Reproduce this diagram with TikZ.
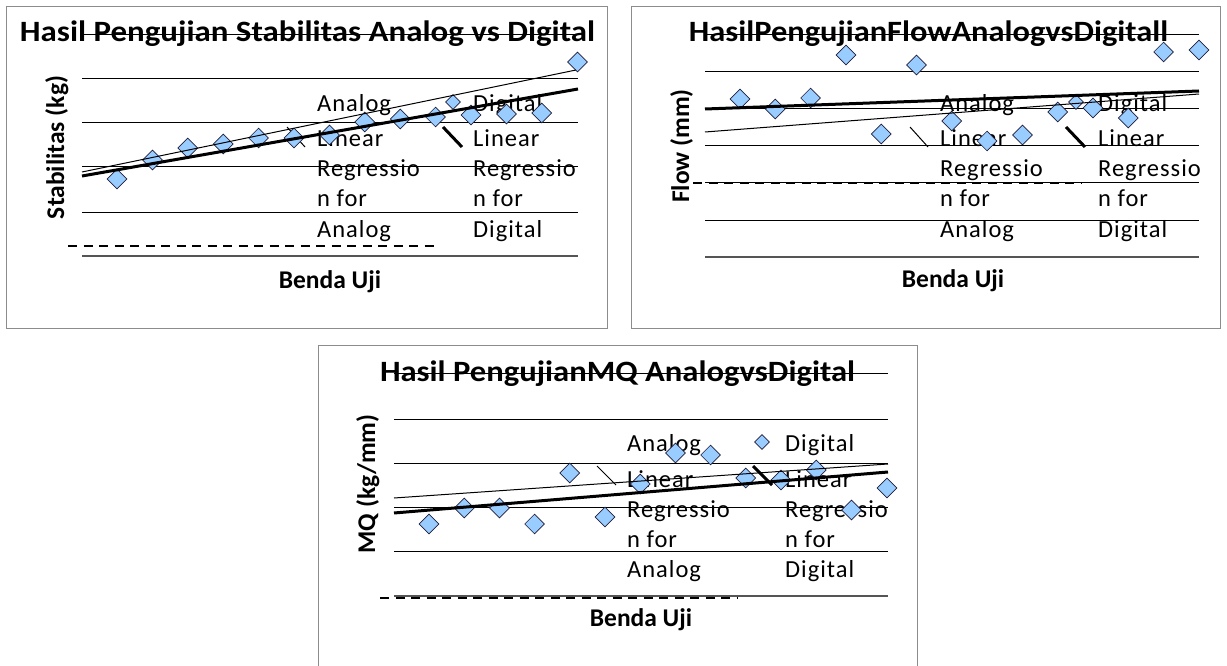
\documentclass[tikz,border=0pt]{standalone}
\usepackage{fontspec}
\setmainfont{Carlito}
\usepackage{graphicx}
\usetikzlibrary{shapes.geometric}
\definecolor{dfill}{RGB}{153,204,255}
\definecolor{framecol}{RGB}{140,140,140}
\definecolor{basecol}{RGB}{85,85,85}
\definecolor{ptline}{RGB}{30,30,60}
\tikzset{
  gridln/.style={black, line width=1pt},
  baseln/.style={basecol, line width=2pt},
  dashln/.style={black, line width=1.4pt, dash pattern=on 9pt off 6.5pt},
  thinreg/.style={black, line width=1pt},
  thickreg/.style={black, line width=3pt},
  pt/.style={shape=diamond, draw=ptline, fill=dfill, line width=0.7pt, minimum width=20pt, minimum height=20pt, inner sep=0pt},
  legpt/.style={pt, minimum width=15pt, minimum height=15pt},
  ttl/.style={anchor=base, inner sep=0pt},
  leg/.style={anchor=base west, inner sep=0pt, font=\fontsize{24.5}{26}\selectfont\addfontfeatures{LetterSpace=4}},
  axlab/.style={anchor=base, inner sep=0pt, font=\fontsize{25.5}{27}\selectfont\bfseries},
  panelframe/.style={draw=framecol, line width=1pt},
}
\newcommand\mytitle[2]{\resizebox{#1pt}{\height}{\fontsize{29.5}{31}\selectfont\bfseries #2}}
\begin{document}
\begin{tikzpicture}[x=1pt, y=-1pt]
\useasboundingbox[fill=white] (0,0) rectangle (1227,666);

% ---------- frames ----------
\draw[panelframe] (6.5,6.5) rectangle (607,328.5);
\draw[panelframe] (631,6.5) rectangle (1220,328.5);
\draw[panelframe] (318.5,666) -- (318.5,345.5) -- (917,345.5) -- (917,666);

% ---------- panel 1 : Stabilitas ----------
\foreach \g in {35,79,123,167,212} \draw[gridln] (82,\g) -- (578,\g);
\draw[baseln] (82,256) -- (578,256);
\node[ttl] (t1) at (307.5,42) {\mytitle{575}{Hasil Pengujian Stabilitas Analog vs Digital}};
\node[axlab, rotate=90] (y1) at (64,147.5) {Stabilitas (kg)};
\node[axlab] (x1) at (330,288) {Benda Uji};
\node[leg] (l1a) at (317,112) {Analog};
\node[leg] (l1b) at (317,147) {Linear};
\node[leg] (l1c) at (317,177) {Regressio};
\node[leg] (l1d) at (317,207) {n for};
\node[leg] (l1e) at (317,237) {Analog};
\node[leg] (l1f) at (473,112) {Digital};
\node[leg] (l1g) at (473,147) {Linear};
\node[leg] (l1h) at (473,177) {Regressio};
\node[leg] (l1i) at (473,207) {n for};
\node[leg] (l1j) at (473,237) {Digital};
\coordinate (s1a) at (287,127); \coordinate (s1b) at (305,147);
\coordinate (s1c) at (443,127); \coordinate (s1d) at (462,147);
\draw[thinreg] (s1a) -- (s1b);
\draw[thickreg] (s1c) -- (s1d);
\coordinate (d1a) at (68,246); \coordinate (d1b) at (437,246);
\draw[dashln] (d1a) -- (d1b);
\node[legpt] (m1) at (453,102) {};
\foreach \x/\y [count=\i] in {117/179,152.4/160,187.8/148,223.2/144,258.6/138,294/138,329.4/135,364.8/122,400.2/119,435.6/117,471/115,506.4/114,541.8/113,577.5/62}
  \node[pt] (p1-\i) at (\x,\y) {};
\coordinate (r1a) at (82,172); \coordinate (r1b) at (576,70);
\coordinate (r1c) at (82,176); \coordinate (r1d) at (578,89);
\draw[thinreg] (r1a) -- (r1b);
\draw[thickreg] (r1c) -- (r1d);

% ---------- panel 2 : Flow ----------
\foreach \g in {35,72,109,146,183,220} \draw[gridln] (705,\g) -- (1199,\g);
\draw[baseln] (705,257) -- (1199,257);
\node[ttl] (t2) at (928.5,42) {\mytitle{479}{HasilPengujianFlowAnalogvsDigitall}};
\node[axlab, rotate=90] (y2) at (689,146) {Flow (mm)};
\node[axlab] (x2) at (953,287) {Benda Uji};
\node[leg] (l2a) at (940,112) {Analog};
\node[leg] (l2b) at (940,147) {Linear};
\node[leg] (l2c) at (940,177) {Regressio};
\node[leg] (l2d) at (940,207) {n for};
\node[leg] (l2e) at (940,237) {Analog};
\node[leg] (l2f) at (1098,112) {Digital};
\node[leg] (l2g) at (1098,147) {Linear};
\node[leg] (l2h) at (1098,177) {Regressio};
\node[leg] (l2i) at (1098,207) {n for};
\node[leg] (l2j) at (1098,237) {Digital};
\coordinate (s2a) at (910,127); \coordinate (s2b) at (928,147);
\coordinate (s2c) at (1066,127); \coordinate (s2d) at (1085,147);
\draw[thinreg] (s2a) -- (s2b);
\draw[thickreg] (s2c) -- (s2d);
\coordinate (d2a) at (693,183); \coordinate (d2b) at (1082,183);
\draw[dashln] (d2a) -- (d2b);
\node[legpt] (m2) at (1076,102) {};
\foreach \x/\y [count=\i] in {740/99,775.3/109,810.6/98,845.9/55,881.2/134,916.5/65,951.8/121,987.1/141,1022.4/135,1057.7/112,1093/108,1128.3/118,1163.6/52,1199/50}
  \node[pt] (p2-\i) at (\x,\y) {};
\coordinate (r2a) at (705,132); \coordinate (r2b) at (1199,94);
\coordinate (r2c) at (705,109); \coordinate (r2d) at (1199,91);
\draw[thinreg] (r2a) -- (r2b);
\draw[thickreg] (r2c) -- (r2d);

% ---------- panel 3 : MQ ----------
\foreach \g in {373,419,463,507,551} \draw[gridln] (394,\g) -- (888,\g);
\draw[baseln] (394,596) -- (888,596);
\node[ttl] (t3) at (617.5,381) {\mytitle{475}{Hasil PengujianMQ AnalogvsDigital}};
\node[axlab, rotate=90] (y3) at (375,484) {MQ (kg/mm)};
\node[axlab] (x3) at (641,626) {Benda Uji};
\node[leg] (l3a) at (627,451) {Analog};
\node[leg] (l3b) at (627,487) {Linear};
\node[leg] (l3c) at (627,517) {Regressio};
\node[leg] (l3d) at (627,547) {n for};
\node[leg] (l3e) at (627,577) {Analog};
\node[leg] (l3f) at (785,451) {Digital};
\node[leg] (l3g) at (785,487) {Linear};
\node[leg] (l3h) at (785,517) {Regressio};
\node[leg] (l3i) at (785,547) {n for};
\node[leg] (l3j) at (785,577) {Digital};
\coordinate (s3a) at (597,466); \coordinate (s3b) at (616,485);
\coordinate (s3c) at (753,466); \coordinate (s3d) at (772,485);
\draw[thinreg] (s3a) -- (s3b);
\draw[thickreg] (s3c) -- (s3d);
\coordinate (d3a) at (380,598); \coordinate (d3b) at (738,598);
\draw[dashln] (d3a) -- (d3b);
\node[legpt] (m3) at (762,442) {};
\foreach \x/\y [count=\i] in {429/524,464.2/508,499.4/508,534.6/524,569.8/473,605/517,640.2/484,675.4/453,710.6/455,745.8/478,781/480,816.2/470,851.4/510,887/488}
  \node[pt] (p3-\i) at (\x,\y) {};
\coordinate (r3a) at (394,498); \coordinate (r3b) at (888,464);
\coordinate (r3c) at (394,513); \coordinate (r3d) at (888,472);
\draw[thinreg] (r3a) -- (r3b);
\draw[thickreg] (r3c) -- (r3d);
\end{tikzpicture}
\end{document}
